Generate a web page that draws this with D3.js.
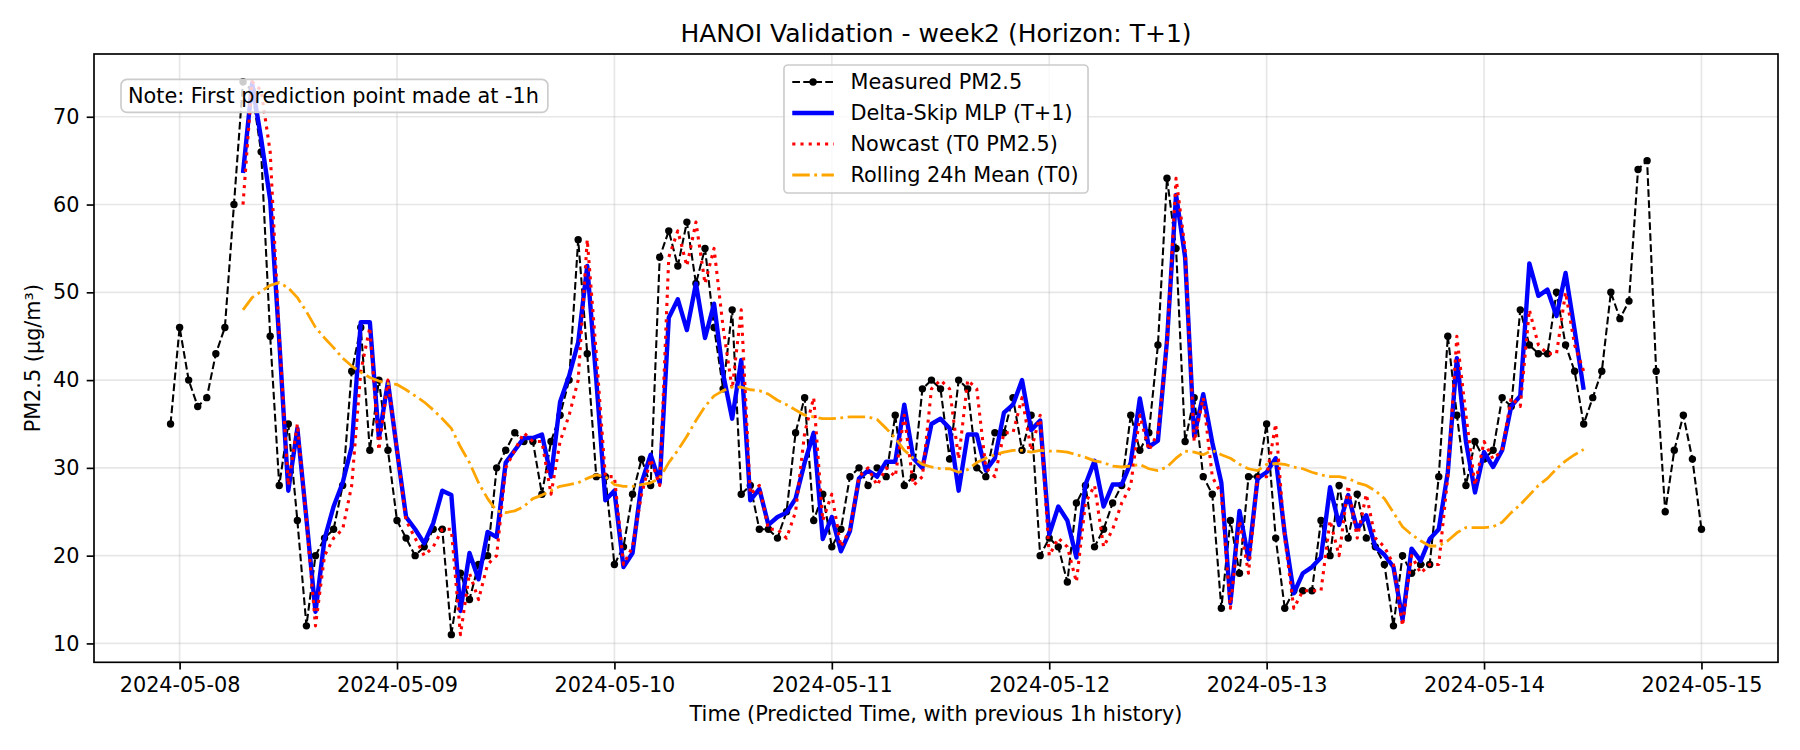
<!DOCTYPE html>
<html>
<head>
<meta charset="utf-8">
<title>HANOI Validation - week2</title>
<script src="https://cdn.jsdelivr.net/npm/d3@7"></script>
<style>
    body { margin: 0; background: #ffffff; }
    #chart svg { display: block; font-family: "DejaVu Sans", sans-serif; }
</style>
</head>
<body>
<div id="chart"></div>
<script>
"use strict";

// hourly series. measured starts 1h before the first prediction hour
var measuredStart = "2024-05-07T23:00";
var forecastStart = "2024-05-08T07:00";

var measured = [
    35, 46, 40, 37, 38, 43, 46, 60, 74, 73,
    66, 45, 28, 35, 24, 12, 20, 22, 23, 28,
    41, 46, 32, 40, 32, 24, 22, 20, 21, 23,
    23, 11, 18, 15, 19, 20, 30, 32, 34, 33,
    33, 27, 33, 36, 40, 56, 43, 29, 29, 19,
    21, 27, 31, 28, 54, 57, 53, 58, 51, 55,
    46, 39, 48, 27, 28, 23, 23, 22, 25, 34,
    38, 24, 27, 21, 23, 29, 30, 28, 30, 29,
    36, 28, 29, 39, 40, 39, 31, 40, 39, 30,
    29, 34, 34, 38, 32, 36, 20, 22, 21, 17,
    26, 28, 21, 23, 26, 28, 36, 32, 34, 44,
    63, 55, 33, 38, 29, 27, 14, 24, 18, 29,
    29, 35, 22, 14, 16, 16, 16, 24, 20, 28,
    22, 27, 22, 21, 19, 12, 20, 18, 19, 19,
    29, 45, 36, 28, 33, 31, 32, 38, 37, 48,
    44, 43, 43, 50, 44, 41, 35, 38, 41, 50,
    47, 49, 64, 65, 41, 25, 32, 36, 31, 23
];

var deltaSkip = [
    63.6, 73.8, 67.5, 60.5, 44.5, 27.4, 34.5, 24.2, 13.6, 21.9,
    25.6, 28.3, 32.4, 46.6, 46.6, 33.4, 39.8, 32.0, 24.4, 23.0,
    21.4, 23.7, 27.4, 26.9, 13.7, 20.3, 17.3, 22.7, 22.1, 30.6,
    32.0, 33.4, 33.4, 33.8, 29.0, 37.5, 40.5, 44.3, 53.0, 40.0,
    26.3, 27.4, 18.7, 20.3, 28.3, 31.5, 28.3, 47.1, 49.2, 45.7,
    51.0, 44.8, 48.7, 40.7, 35.6, 42.3, 26.3, 27.6, 23.5, 24.4,
    24.9, 26.5, 30.6, 34.0, 21.9, 24.4, 20.5, 22.8, 28.8, 29.7,
    29.0, 30.7, 30.7, 37.2, 31.1, 30.0, 35.0, 35.6, 34.5, 27.4,
    33.8, 33.8, 29.7, 31.1, 36.3, 37.2, 40.0, 34.3, 35.4, 22.4,
    25.6, 24.0, 19.8, 28.1, 30.8, 25.6, 28.1, 28.1, 30.6, 37.9,
    32.4, 33.1, 44.5, 61.1, 54.0, 33.6, 38.4, 32.9, 28.3, 14.6,
    25.1, 19.6, 28.8, 29.5, 31.1, 22.5, 15.7, 18.0, 18.7, 19.8,
    27.8, 23.5, 26.9, 23.0, 24.6, 21.0, 20.1, 18.7, 12.7, 20.8,
    19.4, 21.9, 23.0, 29.5, 42.5, 33.0, 27.2, 31.8, 30.1, 32.0,
    37.0, 38.2, 53.3, 49.6, 50.3, 47.3, 52.2, 45.7, 38.9
];

var nowcast = [
    60, 74, 73, 66, 45, 28, 35, 24, 12, 20,
    22, 23, 28, 41, 46, 32, 40, 32, 24, 22,
    20, 21, 23, 23, 11, 18, 15, 19, 20, 30,
    32, 34, 33, 33, 27, 33, 36, 40, 56, 43,
    29, 29, 19, 21, 27, 31, 28, 54, 57, 53,
    58, 51, 55, 46, 39, 48, 27, 28, 23, 23,
    22, 25, 34, 38, 24, 27, 21, 23, 29, 30,
    28, 30, 29, 36, 28, 29, 39, 40, 39, 31,
    40, 39, 30, 29, 34, 34, 38, 32, 36, 20,
    22, 21, 17, 26, 28, 21, 23, 26, 28, 36,
    32, 34, 44, 63, 55, 33, 38, 29, 27, 14,
    24, 18, 29, 29, 35, 22, 14, 16, 16, 16,
    24, 20, 28, 22, 27, 22, 21, 19, 12, 20,
    18, 19, 19, 29, 45, 36, 28, 33, 31, 32,
    38, 37, 48, 44, 43, 43, 50, 44, 41
];

var rolling24 = [
    48.0, 49.4, 50.1, 50.8, 51.1, 50.5, 49.4, 47.8, 46.0, 44.8,
    43.7, 42.5, 41.6, 40.9, 40.3, 39.9, 39.6, 39.5, 38.9, 38.2,
    37.5, 36.6, 35.6, 34.5, 32.4, 30.6, 28.3, 26.5, 25.1, 24.9,
    25.1, 25.6, 26.5, 26.9, 27.4, 27.9, 28.1, 28.3, 28.8, 29.2,
    29.0, 28.1, 27.9, 27.9, 28.1, 28.3, 28.8, 30.6, 32.0, 33.6,
    35.4, 37.0, 38.2, 38.8, 39.2, 39.2, 38.9, 38.8, 38.4, 37.7,
    37.2, 36.6, 36.0, 35.8, 35.6, 35.6, 35.7, 35.8, 35.8, 35.8,
    35.5, 34.5, 33.4, 32.0, 31.1, 30.4, 30.1, 29.9, 29.9, 29.5,
    29.8, 30.6, 31.1, 31.5, 31.8, 32.0, 32.0, 31.8, 32.0, 31.9,
    31.9, 31.8, 31.5, 31.2, 30.8, 30.6, 30.2, 30.1, 30.2, 30.4,
    29.9, 29.7, 30.1, 31.1, 31.9, 31.8, 31.5, 32.0, 31.5, 31.1,
    30.4, 29.9, 29.7, 30.4, 30.5, 30.4, 30.1, 29.9, 29.5, 29.2,
    29.0, 29.0, 28.8, 28.3, 28.0, 27.4, 26.5, 24.9, 23.3, 22.4,
    21.7, 21.1, 21.1, 21.7, 22.6, 23.2, 23.2, 23.2, 23.3, 23.8,
    24.9, 25.8, 26.9, 28.0, 28.8, 29.9, 30.8, 31.5, 32.1
];

var dayTicks = ["2024-05-08", "2024-05-09", "2024-05-10", "2024-05-11",
                "2024-05-12", "2024-05-13", "2024-05-14", "2024-05-15"];
var yTicks = [10, 20, 30, 40, 50, 60, 70];

var titleText = "HANOI Validation - week2 (Horizon: T+1)";
var xLabelText = "Time (Predicted Time, with previous 1h history)";
var yLabelText = "PM2.5 (μg/m³)";
var noteText = "Note: First prediction point made at -1h";
var legendLabels = ["Measured PM2.5", "Delta-Skip MLP (T+1)", "Nowcast (T0 PM2.5)", "Rolling 24h Mean (T0)"];

//=========================== setup
var width = 1800, height = 750;
var plot = {left: 94, right: 1778, top: 54, bottom: 662.3};
var fs = 20.8; // 10pt @150dpi

var parseHour = d3.utcParse("%Y-%m-%dT%H:%M");
var parseDay = d3.utcParse("%Y-%m-%d");
var t0 = parseHour(measuredStart);
var tf = parseHour(forecastStart);

function hourly(values, start) {
    return values.map(function(v, i) {
        return {t: d3.utcHour.offset(start, i), v: v};
    });
}

var measuredPts = hourly(measured, t0);
var deltaPts = hourly(deltaSkip, tf);
var nowPts = hourly(nowcast, tf);
var rollPts = hourly(rolling24, tf);

// matplotlib-like 5% margins
var tMin = measuredPts[0].t, tMax = measuredPts[measuredPts.length - 1].t;
var tSpan = tMax - tMin;
var x = d3.scaleUtc()
    .domain([new Date(+tMin - tSpan * 0.05), new Date(+tMax + tSpan * 0.05)])
    .range([plot.left, plot.right]);

var vMin = d3.min(measured), vMax = d3.max(measured), vPad = (vMax - vMin) * 0.05;
var y = d3.scaleLinear()
    .domain([vMin - vPad, vMax + vPad])
    .range([plot.bottom, plot.top]);

var svg = d3.select("#chart").append("svg")
    .attr("width", width)
    .attr("height", height);

svg.append("rect").attr("width", width).attr("height", height).attr("fill", "#ffffff");

// ------------------------- grid
var grid = svg.append("g").attr("class", "grid")
    .attr("stroke", "#b0b0b0").attr("stroke-opacity", 0.3).attr("stroke-width", 1.67);

grid.selectAll("line.gx")
    .data(dayTicks.map(parseDay))
    .enter().append("line")
    .attr("class", "gx")
    .attr("x1", function(d) { return x(d); })
    .attr("x2", function(d) { return x(d); })
    .attr("y1", plot.top).attr("y2", plot.bottom);

grid.selectAll("line.gy")
    .data(yTicks)
    .enter().append("line")
    .attr("class", "gy")
    .attr("y1", function(d) { return y(d); })
    .attr("y2", function(d) { return y(d); })
    .attr("x1", plot.left).attr("x2", plot.right);

// ------------------------- series
var line = d3.line()
    .x(function(d) { return x(d.t); })
    .y(function(d) { return y(d.v); });

var series = svg.append("g").attr("class", "series").attr("fill", "none")
    .attr("stroke-linejoin", "round");

series.append("path")
    .datum(measuredPts)
    .attr("d", line)
    .attr("stroke", "#000000")
    .attr("stroke-width", 2.08)
    .attr("stroke-dasharray", "7.7,3.3");

series.append("g").selectAll("circle")
    .data(measuredPts)
    .enter().append("circle")
    .attr("cx", function(d) { return x(d.t); })
    .attr("cy", function(d) { return y(d.v); })
    .attr("r", 3.7)
    .attr("fill", "#000000");

series.append("path")
    .datum(deltaPts)
    .attr("d", line)
    .attr("stroke", "#0000ff")
    .attr("stroke-width", 4.4);

series.append("path")
    .datum(nowPts)
    .attr("d", line)
    .attr("stroke", "#ff0000")
    .attr("stroke-width", 3.1)
    .attr("stroke-dasharray", "3.1,5.1");

series.append("path")
    .datum(rollPts)
    .attr("d", line)
    .attr("stroke", "#ffa500")
    .attr("stroke-width", 2.8)
    .attr("stroke-dasharray", "17.5,4.5,2.8,4.5");

// ------------------------- axes
var xAxis = d3.axisBottom(x)
    .tickValues(dayTicks.map(parseDay))
    .tickFormat(d3.utcFormat("%Y-%m-%d"))
    .tickSizeInner(7.3).tickSizeOuter(0).tickPadding(7.3);

var yAxis = d3.axisLeft(y)
    .tickValues(yTicks)
    .tickSizeInner(7.3).tickSizeOuter(0).tickPadding(7.3);

var gx = svg.append("g").attr("transform", "translate(0," + plot.bottom + ")").call(xAxis);
var gy = svg.append("g").attr("transform", "translate(" + plot.left + ",0)").call(yAxis);

[gx, gy].forEach(function(g) {
    g.select(".domain").remove();
    g.selectAll(".tick line").attr("stroke", "#000000").attr("stroke-width", 1.67);
    g.selectAll(".tick text")
        .attr("fill", "#000000")
        .style("font-family", "'DejaVu Sans', sans-serif")
        .style("font-size", fs + "px");
});

// frame
svg.append("rect")
    .attr("x", plot.left).attr("y", plot.top)
    .attr("width", plot.right - plot.left)
    .attr("height", plot.bottom - plot.top)
    .attr("fill", "none")
    .attr("stroke", "#000000")
    .attr("stroke-width", 1.67);

// ------------------------- labels
var cx = (plot.left + plot.right) / 2;

svg.append("text")
    .attr("x", cx).attr("y", 42)
    .attr("text-anchor", "middle")
    .style("font-size", "25px")
    .text(titleText);

svg.append("text")
    .attr("x", cx).attr("y", 721)
    .attr("text-anchor", "middle")
    .style("font-size", fs + "px")
    .text(xLabelText);

svg.append("text")
    .attr("transform", "translate(40," + ((plot.top + plot.bottom) / 2) + ") rotate(-90)")
    .attr("text-anchor", "middle")
    .style("font-size", fs + "px")
    .text(yLabelText);

// ------------------------- note box (drawn over the data, semi transparent)
var noteG = svg.append("g");
var noteRect = noteG.append("rect");
var noteT = noteG.append("text")
    .attr("x", plot.left + 34)
    .attr("y", 96 + 7.3)
    .style("font-size", fs + "px")
    .text(noteText);
var noteLen = noteT.node().getComputedTextLength();
noteRect
    .attr("x", plot.left + 27).attr("y", 79.4)
    .attr("width", noteLen + 16).attr("height", 33)
    .attr("rx", 6).attr("ry", 6)
    .attr("fill", "#ffffff").attr("fill-opacity", 0.8)
    .attr("stroke", "#cccccc").attr("stroke-width", 1.67);

// ------------------------- legend
var legendG = svg.append("g");
var legendBox = legendG.append("rect");
var rowY = [82, 113, 144, 175];
var handleW = 41.6, textGap = 16.6, pad = 8.3;

var legendTexts = legendG.selectAll("text")
    .data(legendLabels)
    .enter().append("text")
    .style("font-size", fs + "px")
    .attr("y", function(d, i) { return rowY[i] + 7.3; })
    .text(function(d) { return d; });

var maxLen = 0;
legendTexts.each(function() { maxLen = Math.max(maxLen, this.getComputedTextLength()); });
var boxW = pad + handleW + textGap + maxLen + pad + 1;
var boxX = cx - boxW / 2;
var hx0 = boxX + pad, hx1 = hx0 + handleW;
legendTexts.attr("x", hx1 + textGap);

legendBox
    .attr("x", boxX).attr("y", 65)
    .attr("width", boxW).attr("height", 128)
    .attr("rx", 4).attr("ry", 4)
    .attr("fill", "#ffffff").attr("fill-opacity", 0.8)
    .attr("stroke", "#cccccc").attr("stroke-width", 1.67);

var handles = [
    {stroke: "#000000", w: 2.08, dash: "7.7,3.3"},
    {stroke: "#0000ff", w: 4.4, dash: null},
    {stroke: "#ff0000", w: 3.1, dash: "3.1,5.1"},
    {stroke: "#ffa500", w: 2.8, dash: "17.5,4.5,2.8,4.5"}
];
handles.forEach(function(h, i) {
    legendG.append("line")
        .attr("x1", hx0).attr("x2", hx1)
        .attr("y1", rowY[i]).attr("y2", rowY[i])
        .attr("stroke", h.stroke)
        .attr("stroke-width", h.w)
        .attr("stroke-dasharray", h.dash);
});
legendG.append("circle")
    .attr("cx", (hx0 + hx1) / 2).attr("cy", rowY[0])
    .attr("r", 3.7).attr("fill", "#000000");
</script>
</body>
</html>
